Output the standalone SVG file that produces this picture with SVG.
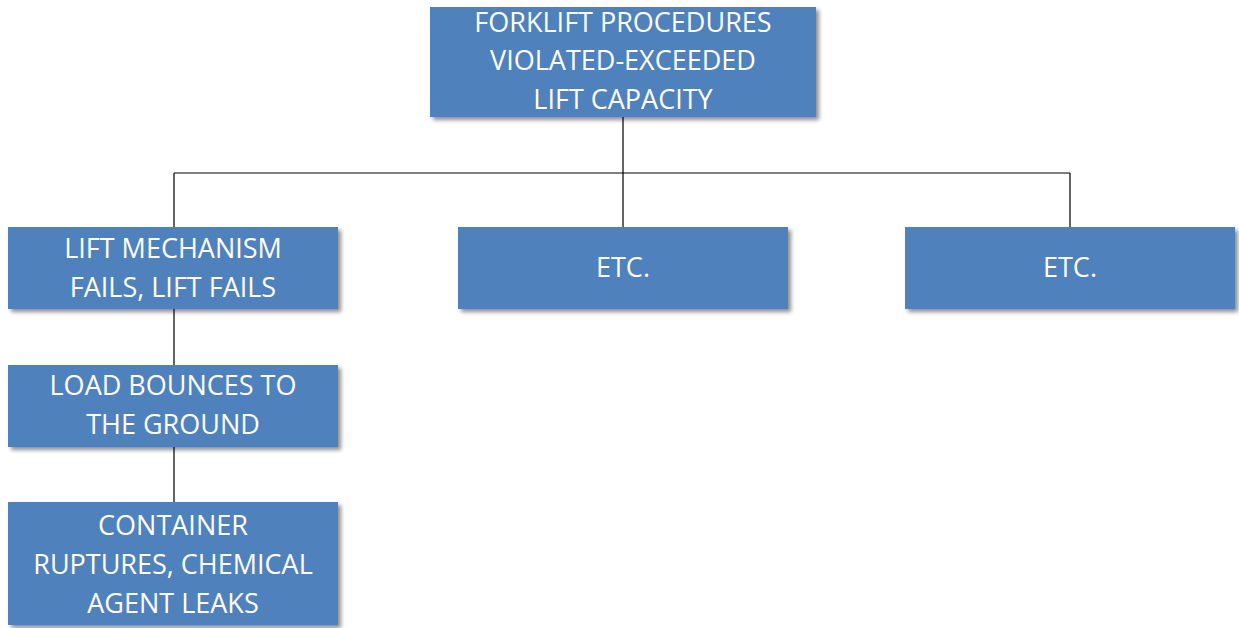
<svg xmlns="http://www.w3.org/2000/svg" width="1239" height="628" viewBox="0 0 1239 628">
  <defs>
    <filter id="sh" x="-10%" y="-10%" width="120%" height="130%">
      <feGaussianBlur in="SourceAlpha" stdDeviation="2"/>
      <feOffset dx="3" dy="3" result="b"/>
      <feComponentTransfer><feFuncA type="linear" slope="0.45"/></feComponentTransfer>
      <feMerge><feMergeNode/><feMergeNode in="SourceGraphic"/></feMerge>
    </filter>
  </defs>
  <style>
    .box { fill: #4F81BD; filter: url(#sh); }
    .t { fill: #FFFFFF; font-family: "Open Sans", "Liberation Sans", sans-serif; font-size: 27px; text-anchor: middle; }
    .c { stroke: #000000; stroke-width: 1.2; fill: none; }
  </style>
  <rect width="1239" height="628" fill="#FFFFFF"/>
  <g id="connectors">
    <path class="c" d="M623 117 V173 M174 173 H1070 M174 173 V227 M623 173 V227 M1070 173 V227 M174 309 V365 M174 447 V502"/>
  </g>
  <g id="n-top">
    <rect class="box" x="430" y="7" width="386" height="110"/>
    <text class="t" x="623" y="32">FORKLIFT PROCEDURES</text>
    <text class="t" x="623" y="70">VIOLATED-EXCEEDED</text>
    <text class="t" x="623" y="109">LIFT CAPACITY</text>
  </g>
  <g id="n-lift">
    <rect class="box" x="8" y="227" width="330" height="82"/>
    <text class="t" x="173" y="258">LIFT MECHANISM</text>
    <text class="t" x="173" y="297">FAILS, LIFT FAILS</text>
  </g>
  <g id="n-etc1">
    <rect class="box" x="458" y="227" width="330" height="82"/>
    <text class="t" x="623" y="277">ETC.</text>
  </g>
  <g id="n-etc2">
    <rect class="box" x="905" y="227" width="330" height="82"/>
    <text class="t" x="1070" y="277">ETC.</text>
  </g>
  <g id="n-load">
    <rect class="box" x="8" y="365" width="330" height="82"/>
    <text class="t" x="173" y="395">LOAD BOUNCES TO</text>
    <text class="t" x="173" y="434">THE GROUND</text>
  </g>
  <g id="n-container">
    <rect class="box" x="8" y="502" width="330" height="123"/>
    <text class="t" x="173" y="535">CONTAINER</text>
    <text class="t" x="173" y="574">RUPTURES, CHEMICAL</text>
    <text class="t" x="173" y="613">AGENT LEAKS</text>
  </g>
</svg>
